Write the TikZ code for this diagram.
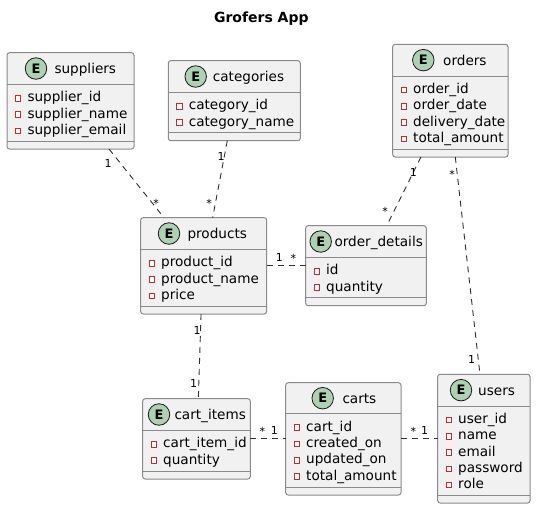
\documentclass[tikz,border=0pt]{standalone}
\usepackage{fontspec}
\setmainfont{DejaVu Sans}
\usetikzlibrary{calc}
\definecolor{boxfill}{HTML}{F1F1F1}
\definecolor{boxline}{HTML}{8A8A8A}
\definecolor{iconfill}{HTML}{ADD1B2}
\definecolor{iconline}{HTML}{181818}
\definecolor{privred}{HTML}{C82930}
\definecolor{relline}{HTML}{303030}
\tikzset{
  entbox/.style={draw=boxline, fill=boxfill, line width=1pt, rounded corners=2.5pt, inner sep=0pt, outer sep=0pt, rectangle},
  sepline/.style={draw=boxline, line width=1pt},
  ecircle/.style={circle, draw=iconline, fill=iconfill, line width=0.8pt, minimum size=21.5pt, inner sep=0pt, font=\fontsize{13}{13}\selectfont\bfseries},
  etitle/.style={inner sep=0pt, font=\fontsize{13.6}{16}\selectfont},
  attr/.style={inner sep=0pt, font=\fontsize{13.6}{16}\selectfont},
  privsq/.style={draw=privred, fill=white, line width=0.9pt, minimum size=5.5pt, inner sep=0pt, rectangle},
  rel/.style={draw=relline, line width=0.9pt, dash pattern=on 6pt off 5pt},
  mult/.style={inner sep=0pt, anchor=base, font=\fontsize{11}{11}\selectfont},
  ttl/.style={inner sep=0pt, font=\fontsize{14}{16}\selectfont\bfseries}
}
% name, x1, y1, x2, y2, sep1, circle x, title x, title
\newcommand{\entity}[9]{%
  \node[entbox, minimum width={#4-#2}, minimum height={#5-#3}] (#1) at ({(#2+#4)/2},{(#3+#5)/2}) {};
  \draw[sepline] (#2,#6) -- (#4,#6);
  \draw[sepline] (#2,{#5-7.8}) -- (#4,{#5-7.8});
  \node[ecircle] (#1-icon) at (#7,{(#3+#6)/2}) {E};
  \node[etitle, anchor=base west] (#1-title) at (#8,{(#3+#6)/2+5}) {#9};
}
% name, x1, sep1, list
\newcommand{\attrs}[4]{%
  \foreach \a [count=\i from 0] in {#4} {
    \node[privsq] (#1-sq\i) at ({#2+11},{#3+12.4+16.3*\i+1.5}) {};
    \node[attr, anchor=base west] (#1-a\i) at ({#2+20.3},{#3+12.4+16.3*\i+5}) {\a};
  }
}
\begin{document}
\begin{tikzpicture}[x=1pt, y=-1pt]
\useasboundingbox (0,0) rectangle (536,509);
\node[ttl] (title) at (261.3,18.3) {Grofers App};

\entity{sup}{7}{52.7}{134}{149}{84.3}{36}{54.3}{suppliers}
\attrs{sup}{7}{84.3}{supplier\_id, supplier\_name, supplier\_email}

\entity{cat}{168.3}{60.7}{300.3}{140.7}{92.3}{195.7}{212.7}{categories}
\attrs{cat}{168.3}{92.3}{category\_id, category\_name}

\entity{ord}{392.7}{44.3}{508}{157}{76}{423.3}{443}{orders}
\attrs{ord}{392.7}{76}{order\_id, order\_date, delivery\_date, total\_amount}

\entity{prod}{140.7}{217.7}{266.7}{314}{249.3}{169}{187.3}{products}
\attrs{prod}{140.7}{249.3}{product\_id, product\_name, price}

\entity{od}{305.7}{225.7}{426.3}{305.7}{257.3}{320.7}{334.3}{order\_details}
\attrs{od}{305.7}{257.3}{id, quantity}

\entity{ci}{142.7}{398.7}{250.3}{479}{430.3}{159}{174.3}{cart\_items}
\attrs{ci}{142.7}{430.3}{cart\_item\_id, quantity}

\entity{carts}{285.7}{382.7}{401}{495}{413.7}{322.7}{342.3}{carts}
\attrs{carts}{285.7}{413.7}{cart\_id, created\_on, updated\_on, total\_amount}

\entity{users}{437.7}{374.3}{530}{503}{406}{461}{478}{users}
\attrs{users}{437.7}{406}{user\_id, name, email, password, role}

% connectors
\draw[rel] ($(sup.south west)!0.803!(sup.south east)$) -- ($(prod.north west)!0.185!(prod.north east)$);
\draw[rel] ($(cat.south west)!0.447!(cat.south east)$) -- ($(prod.north west)!0.571!(prod.north east)$);
\draw[rel] (prod.east) -- (prod.east -| od.west);
\draw[rel] ($(ord.south west)!0.245!(ord.south east)$) -- ($(od.north west)!0.672!(od.north east)$);
\draw[rel] ($(ord.south west)!0.543!(ord.south east)$) -- ($(users.north west)!0.458!(users.north east)$);
\draw[rel] ($(prod.south west)!0.479!(prod.south east)$) -- ($(ci.north west)!0.517!(ci.north east)$);
\draw[rel] (ci.east) -- (ci.east -| carts.west);
\draw[rel] (carts.east) -- (carts.east -| users.west);

% multiplicities
\node[mult] (m1) at (108,167) {1};
\node[mult] (m2) at (156,207) {*};
\node[mult] (m3) at (221,160) {1};
\node[mult] (m4) at (209,207) {*};
\node[mult] (m5) at (279.3,261.5) {1};
\node[mult] (m6) at (293.3,262.5) {*};
\node[mult] (m7) at (413.3,176.7) {1};
\node[mult] (m8) at (385,215.5) {*};
\node[mult] (m9) at (452,178.8) {*};
\node[mult] (m10) at (471.7,363) {1};
\node[mult] (m11) at (197,334.7) {1};
\node[mult] (m12) at (193.7,387.3) {1};
\node[mult] (m13) at (262.3,435.5) {*};
\node[mult] (m14) at (274.3,434.7) {1};
\node[mult] (m15) at (413.3,435.8) {*};
\node[mult] (m16) at (424.7,434.3) {1};
\end{tikzpicture}
\end{document}
